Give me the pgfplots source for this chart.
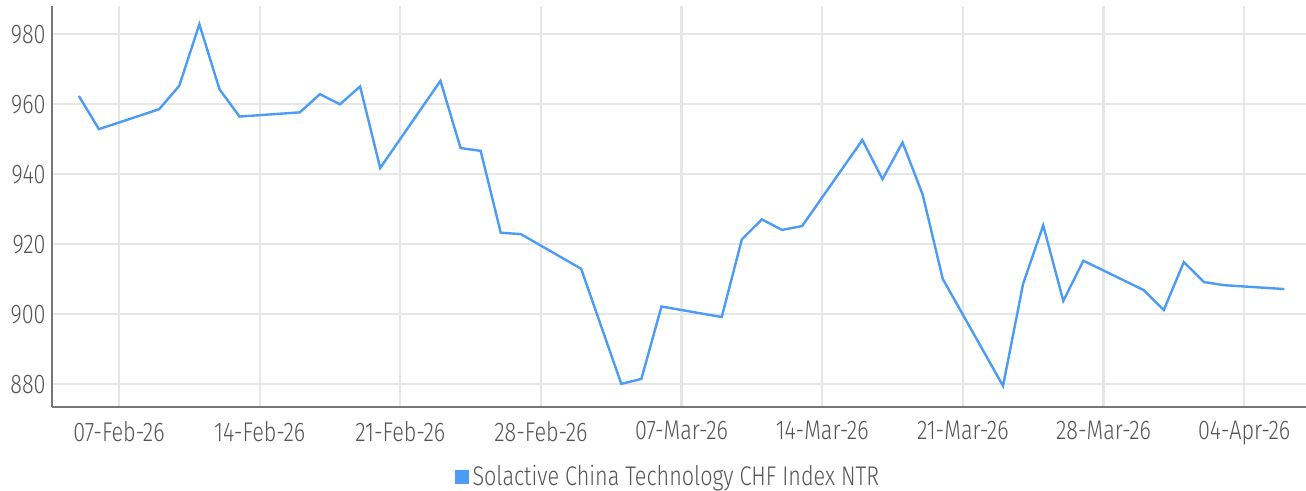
\documentclass[border=0pt]{standalone}
\usepackage{fontspec}
\setmainfont[FakeStretch=0.8, UprightFont=* Light]{Fira Sans}
\usepackage{pgfplots}
\pgfplotsset{compat=1.18}
\definecolor{lineblue}{HTML}{4C9BF5}
\definecolor{gridgrey}{HTML}{E6E6E6}
\definecolor{axisgrey}{HTML}{777777}
\definecolor{textgrey}{HTML}{555555}
\begin{document}
\begin{tikzpicture}
\begin{axis}[
  at={(0,0)}, anchor=south west,
  scale only axis,
  width=627bp, height=200.3bp,
  xmin=3.665, xmax=66.08,
  ymin=873.6, ymax=988.1,
  axis x line*=bottom, axis y line*=left,
  axis line style={axisgrey, line width=0.9bp},
  xtick={7,14,21,28,35,42,49,56,63},
  xticklabels={07-Feb-26,14-Feb-26,21-Feb-26,28-Feb-26,07-Mar-26,14-Mar-26,21-Mar-26,28-Mar-26,04-Apr-26},
  ytick={880,900,920,940,960,980},
  major tick length=0pt,
  grid=major,
  major grid style={gridgrey, line width=1.1bp},
  /pgf/number format/assume math mode=true,
  ticklabel style={font=\fontsize{13.5bp}{15bp}\selectfont, text=textgrey, inner sep=0pt},
  xticklabel style={anchor=north, yshift=-7bp},
  yticklabel style={anchor=east, xshift=-3bp},
  legend style={at={(0.492,-0.175)}, anchor=center, draw=none, fill=none,
    font=\fontsize{13.5bp}{15bp}\selectfont, text=textgrey, inner sep=0pt,
    /tikz/every even column/.append style={column sep=0pt}},
  legend cell align=left,
  legend image code/.code={\fill[lineblue] (0bp,-2.8bp) rectangle (5.6bp,2.8bp);},
]
\addplot[lineblue, line width=1.2bp, line join=miter] coordinates {
(5,962.4) (6,952.9) (9,958.6) (10,965.3) (11,982.9) (12,964.3) (13,956.5)
(16,957.7) (17,962.9) (18,960.0) (19,965.1) (20,941.8)
(23,966.7) (24,947.5) (25,946.7) (26,923.3) (27,922.9)
(30,913.0) (32,880.1) (33,881.5) (34,902.2)
(37,899.2) (38,921.4) (39,927.1) (40,924.1) (41,925.2)
(44,949.8) (45,938.6) (46,949.1) (47,934.2) (48,910.1)
(51,879.5) (52,908.7) (53,925.4) (54,903.8) (55,915.3)
(58,906.9) (59,901.2) (60,914.9) (61,909.2) (62,908.3)
(65,907.2)
};
\addlegendentry{Solactive China Technology CHF Index NTR}
\end{axis}
\pgfresetboundingbox
\useasboundingbox (-26bp,-42.15bp) rectangle (627bp,203.3bp);
\end{tikzpicture}
\end{document}
